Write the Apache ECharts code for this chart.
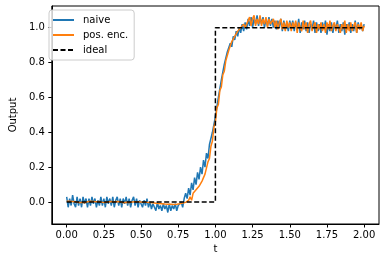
<!DOCTYPE html>
<html>
<head>
<meta charset="utf-8">
<script src="https://cdn.jsdelivr.net/npm/echarts@6/dist/echarts.min.js"></script>
<style>
html,body{margin:0;padding:0;background:#fff;}
#c{width:386px;height:262px;}
</style>
</head>
<body>
<div id="c"></div>
<script>
// sample grid: t from 0 to 2, step 0.01
const tStart = 0, tStep = 0.01;

const naive = [
0.03,-0.03,0.02,-0.02,0.04,-0.01,-0.03,0.03,-0.02,0.02,
-0.03,0.03,-0.01,0.02,-0.03,0.02,-0.02,0.03,-0.01,0.02,
-0.03,0.01,-0.02,0.03,-0.02,0.02,-0.03,0.03,-0.01,0.02,
-0.02,0.03,-0.03,0.01,0.03,-0.02,0.02,-0.03,0.02,-0.01,
0.03,-0.02,0.02,-0.03,0.01,0.03,-0.02,0.02,-0.03,0.01,
0.02,-0.03,0.01,-0.02,0.02,-0.03,
0.00,-0.04,-0.01,-0.03,-0.05,0.00,-0.04,-0.02,-0.05,-0.01,
-0.04,-0.02,-0.06,-0.01,-0.05,-0.02,-0.04,-0.01,-0.05,-0.02,
-0.03,0.00,-0.03,
0.02,0.05,0.02,0.08,0.04,0.11,0.07,0.14,0.10,0.17,
0.13,0.20,0.16,0.24,0.20,0.28,0.25,0.33,0.32,0.40,
0.40,0.49,0.50,0.60,0.61,0.70,0.71,0.79,0.79,0.86,
0.85,0.91,0.89,0.95,0.93,0.98,0.95,1.00,0.97,1.02,
0.98,1.03,
0.99,1.05,1.01,1.06,1.00,1.05,1.02,1.07,1.01,1.06,
1.02,1.06,1.00,1.05,1.01,1.06,1.01,1.05,1.00,1.04,
0.99,1.04,1.00,1.05,0.98,1.04,0.99,1.03,0.98,1.04,
1.00,1.04,0.98,1.03,0.99,1.05,0.97,1.03,0.99,1.04,
0.98,1.03,0.97,1.02,0.99,1.04,0.97,1.03,0.98,1.02,
0.97,1.03,0.99,1.04,0.96,1.02,0.98,1.03,0.97,1.02,
0.99,1.04,0.97,1.02,0.98,1.03,0.96,1.02,0.99,1.03,
0.97,1.02,0.98,1.04,0.97,1.03,0.99,1.02,0.98,1.02
];

const posEnc = [
0.005,-0.003,0.004,-0.002,0.003,-0.004,0.002,0.000,-0.003,0.004,
-0.002,0.003,-0.004,0.002,0.001,-0.003,0.004,-0.002,0.003,-0.001,
0.002,-0.004,0.003,0.000,-0.002,0.004,-0.003,0.002,0.001,-0.002,
0.003,-0.004,0.002,-0.001,0.003,-0.003,0.001,0.002,-0.004,0.003,
-0.001,0.002,-0.003,0.001,0.000,-0.002,0.001,-0.004,0.002,-0.003,
0.000,-0.002,-0.001,-0.003,-0.002,-0.004,
-0.003,-0.005,-0.004,-0.006,-0.007,-0.006,-0.008,-0.009,-0.010,-0.011,
-0.012,-0.011,-0.013,-0.014,-0.013,-0.015,-0.014,-0.015,-0.013,-0.012,
-0.010,-0.008,-0.006,-0.004,-0.002,0.000,
0.01,0.03,0.01,0.05,0.04,0.07,0.06,0.09,0.08,0.12,
0.11,0.16,0.17,0.23,0.25,0.32,0.35,0.43,0.46,0.54,
0.56,0.64,0.66,0.73,0.75,0.81,0.82,0.87,0.87,0.92,
0.91,0.95,0.94,0.98,0.97,1.00,0.99,1.02,1.00,
1.02,1.04,1.06,1.01,1.05,1.07,1.01,1.05,1.02,1.07,
1.01,1.05,1.02,1.06,1.00,1.05,1.02,1.01,1.05,1.00,
1.04,0.99,1.03,1.05,0.99,1.03,0.98,1.04,1.00,1.03,
0.98,1.03,1.00,1.04,0.97,1.03,1.00,0.98,1.04,0.99,
1.03,0.97,1.02,1.04,0.98,1.01,1.03,0.97,1.02,0.99,
1.03,0.98,1.02,0.97,1.03,0.99,1.04,0.98,1.01,1.03,
0.98,1.02,1.03,0.97,1.02,0.99,1.04,0.97,1.02,0.98,
1.03,0.98,1.01,1.03,0.97,1.02,0.99,1.03,0.98,1.01
];

const idealT = [0, 1, 1, 2];
const idealV = [0, 0, 1, 1];

const xTicks = [0, 0.25, 0.5, 0.75, 1.0, 1.25, 1.5, 1.75, 2.0];
const yTicks = [0, 0.2, 0.4, 0.6, 0.8, 1.0];

const seriesNames = ['naive', 'pos. enc.', 'ideal'];

function pair(arr) {
  return arr.map((v, i) => [+(tStart + i * tStep).toFixed(4), v]);
}

const font = 'DejaVu Sans';
const chart = echarts.init(document.getElementById('c'), null, {renderer: 'canvas'});
chart.setOption({
  animation: false,
  backgroundColor: '#fff',
  grid: {
    left: 44, top: 6, right: 7, bottom: 38,
    show: true, borderColor: '#000', borderWidth: 1, backgroundColor: 'transparent'
  },
  legend: {
    orient: 'vertical',
    left: 49, top: 10,
    padding: [5, 6, 5, 3],
    itemGap: 5,
    itemWidth: 21, itemHeight: 10,
    backgroundColor: 'rgba(255,255,255,0.8)',
    borderColor: '#ccc', borderWidth: 1, borderRadius: 3,
    itemStyle: {opacity: 0},
    textStyle: {fontFamily: font, fontSize: 10, color: '#000', padding: [0, 0, 0, 4]},
    data: seriesNames.map(n => ({name: n}))
  },
  xAxis: {
    type: 'value', min: -0.1, max: 2.1,
    name: 't', nameLocation: 'middle', nameGap: 20,
    nameTextStyle: {fontFamily: font, fontSize: 10, color: '#000'},
    axisLine: {show: true, onZero: false, lineStyle: {color: '#000', width: 1}},
    axisTick: {show: true, inside: false, length: 3.5, lineStyle: {color: '#000'}, customValues: xTicks},
    axisLabel: {fontFamily: font, fontSize: 10, color: '#000', margin: 6, customValues: xTicks,
      formatter: v => v.toFixed(2)},
    splitLine: {show: false}
  },
  yAxis: {
    type: 'value', min: -0.126, max: 1.124,
    name: 'Output', nameLocation: 'middle', nameGap: 30, nameRotate: 90,
    nameTextStyle: {fontFamily: font, fontSize: 10, color: '#000'},
    axisLine: {show: true, onZero: false, lineStyle: {color: '#000', width: 1}},
    axisTick: {show: true, inside: false, length: 3.5, lineStyle: {color: '#000'}, customValues: yTicks},
    axisLabel: {fontFamily: font, fontSize: 10, color: '#000', margin: 7, customValues: yTicks,
      formatter: v => v.toFixed(1)},
    splitLine: {show: false}
  },
  series: [
    {
      name: seriesNames[0], type: 'line', data: pair(naive),
      showSymbol: false, symbol: 'none',
      lineStyle: {color: '#1f77b4', width: 1.5}, itemStyle: {color: '#1f77b4'}, z: 2
    },
    {
      name: seriesNames[1], type: 'line', data: pair(posEnc),
      showSymbol: false, symbol: 'none',
      lineStyle: {color: '#ff7f0e', width: 1.5}, itemStyle: {color: '#ff7f0e'}, z: 3
    },
    {
      name: seriesNames[2], type: 'line', data: idealT.map((t, i) => [t, idealV[i]]),
      showSymbol: false, symbol: 'none',
      lineStyle: {color: '#000', width: 1.5, type: [5, 2.5]}, itemStyle: {color: '#000'}, z: 4
    }
  ]
});
</script>
</body>
</html>
